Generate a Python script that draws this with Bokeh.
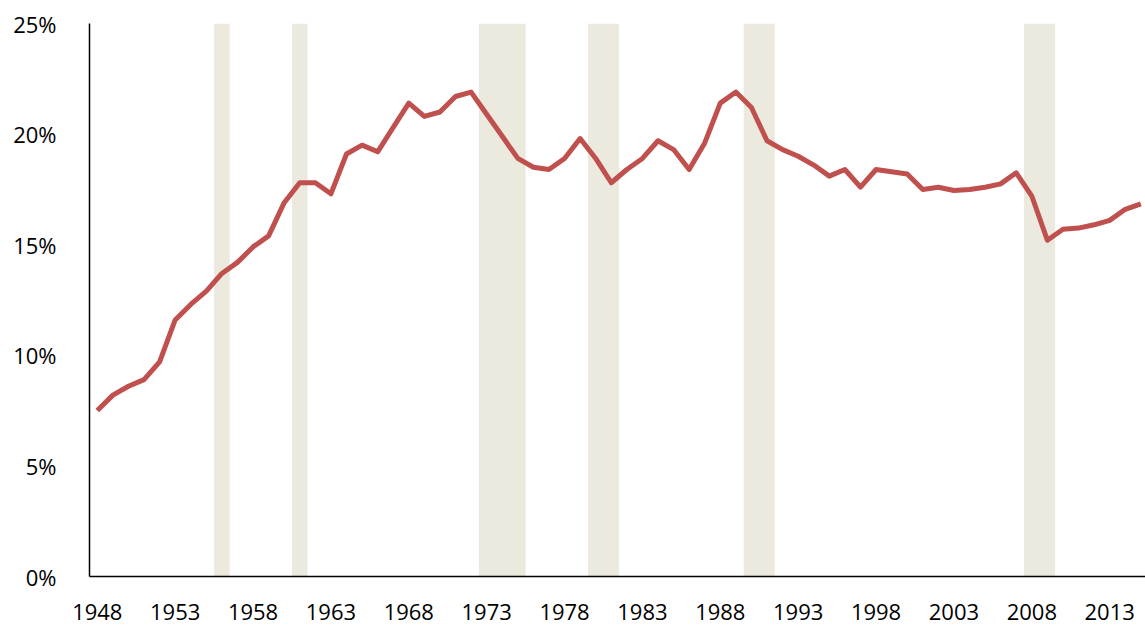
from bokeh.plotting import figure
from bokeh.embed import file_html
from bokeh.resources import INLINE
from bokeh.models import FixedTicker, PrintfTickFormatter, Range1d

years = list(range(1948, 2016))
share = [7.5, 8.2, 8.6, 8.9, 9.7, 11.6, 12.3, 12.9, 13.7, 14.2,
         14.9, 15.4, 16.9, 17.8, 17.8, 17.3, 19.1, 19.5, 19.2, 20.3,
         21.4, 20.8, 21.0, 21.7, 21.9, 20.9, 19.9, 18.9, 18.5, 18.4,
         18.9, 19.8, 18.9, 17.8, 18.4, 18.9, 19.7, 19.3, 18.4, 19.6,
         21.4, 21.9, 21.2, 19.7, 19.3, 19.0, 18.6, 18.1, 18.4, 17.6,
         18.4, 18.3, 18.2, 17.5, 17.6, 17.45, 17.5, 17.6, 17.75, 18.25,
         17.2, 15.2, 15.7, 15.75, 15.9, 16.1, 16.6, 16.85]

recession_start = [1955.5, 1960.5, 1972.5, 1979.5, 1989.5, 2007.5]
recession_end = [1956.5, 1961.5, 1975.5, 1981.5, 1991.5, 2009.5]

x_ticks = list(range(1948, 2016, 5))
y_ticks = [0, 5, 10, 15, 20, 25]

p = figure(output_backend="svg", toolbar_location=None,
           frame_width=1056, frame_height=553,
           min_border_left=89, min_border_top=23, min_border_right=0, min_border_bottom=54,
           x_range=Range1d(1947.5, 2015.3), y_range=Range1d(0, 25))
p.outline_line_color = None
p.xgrid.grid_line_color = None
p.ygrid.grid_line_color = None

p.quad(left=recession_start, right=recession_end, bottom=0, top=25,
       fill_color="#ECE9DF", line_color=None)
p.line(years, share, line_color="#C0504D", line_width=5, line_join="round")

font = "Open Sans"
for ax in (p.xaxis[0], p.yaxis[0]):
    ax.major_tick_line_color = None
    ax.minor_tick_line_color = None
    ax.axis_line_color = "black"
    ax.axis_line_width = 1.5
    ax.major_label_text_font = font
    ax.major_label_text_font_size = "22px"
    ax.major_label_text_color = "black"

p.xaxis.ticker = FixedTicker(ticks=x_ticks)
p.yaxis.ticker = FixedTicker(ticks=y_ticks)
p.yaxis.formatter = PrintfTickFormatter(format="%d%%")
p.yaxis.major_label_standoff = 27
p.xaxis.major_label_standoff = 21

open("out.html", "w").write(file_html(p, INLINE))
